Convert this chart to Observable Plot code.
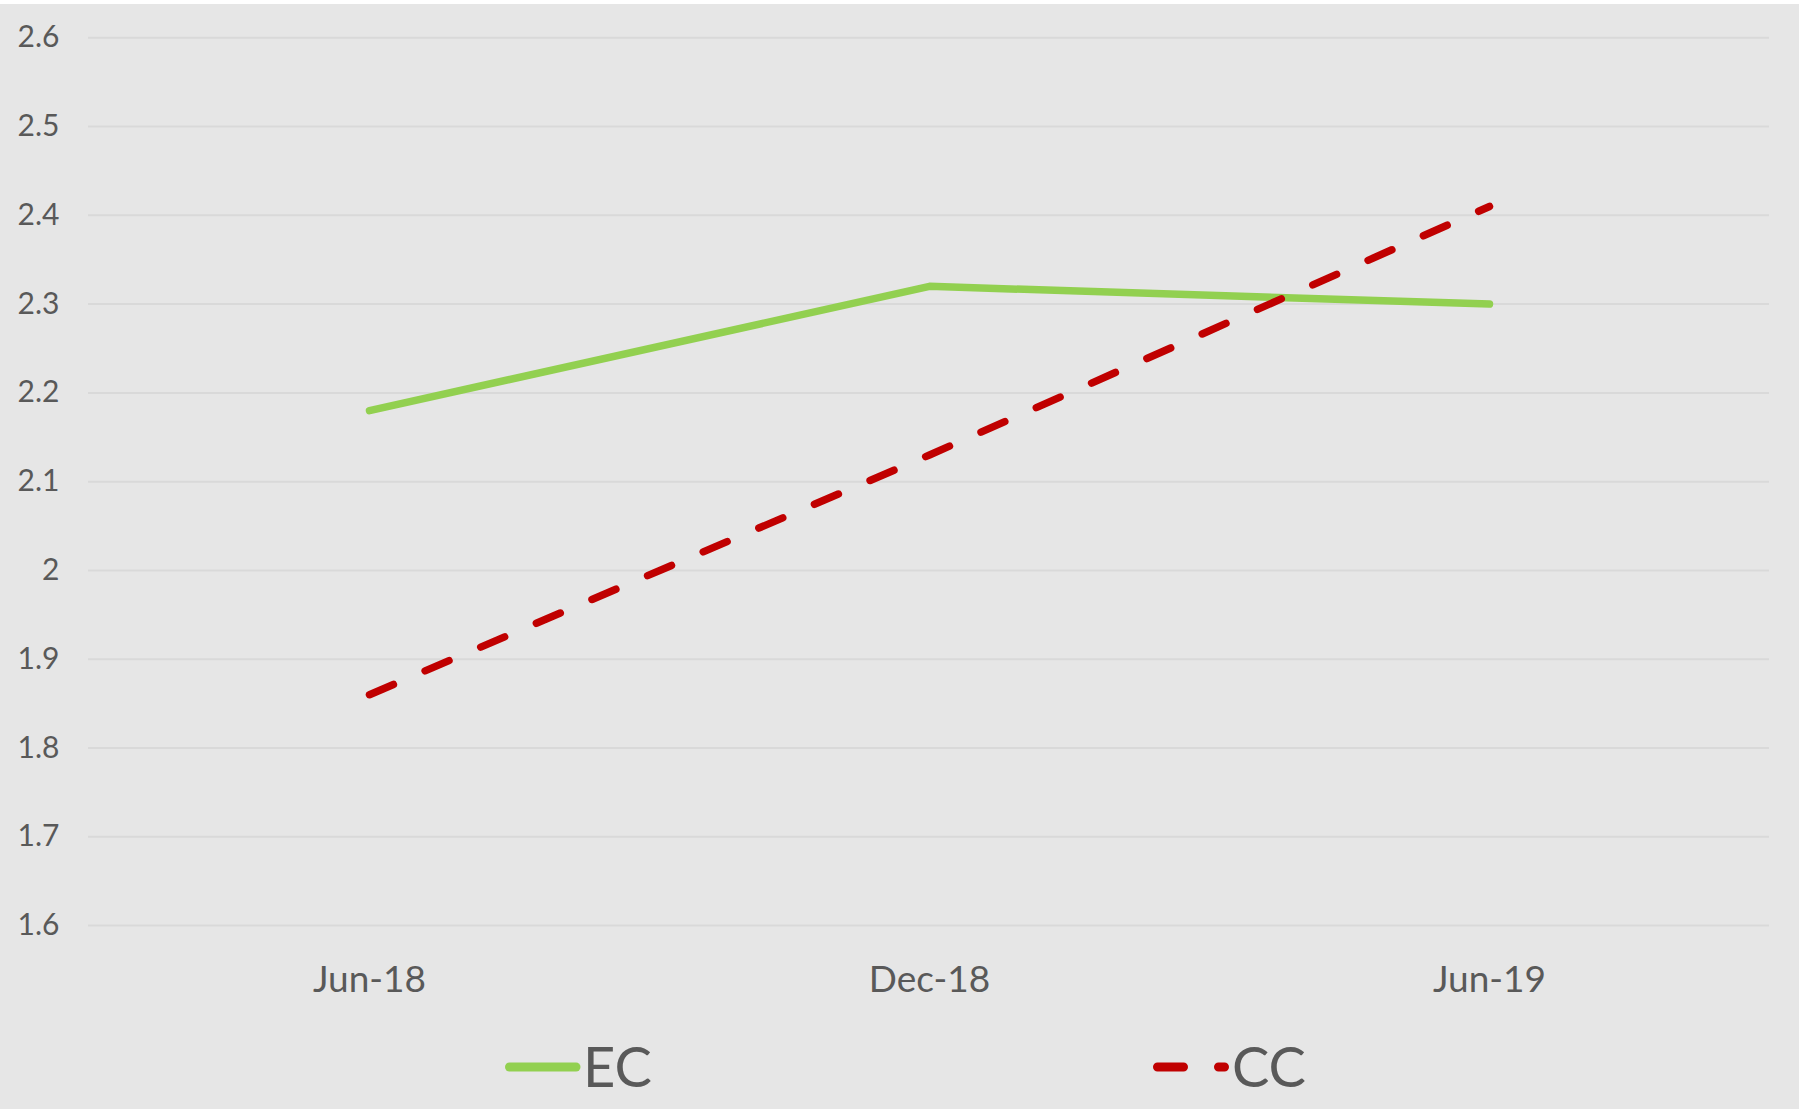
<!DOCTYPE html>
<html>
<head>
<meta charset="utf-8">
<script src="https://cdn.jsdelivr.net/npm/d3@7"></script>
<script src="https://cdn.jsdelivr.net/npm/@observablehq/plot@0.6"></script>
<style>
  html, body { margin: 0; padding: 0; background: #ffffff; }
  #chart { position: absolute; left: 0; top: 4px; width: 1799px; height: 1105px; background: #e6e6e6; font-family: Lato, "Open Sans", sans-serif; }
  #chart svg { display: block; }
</style>
</head>
<body>
<div id="chart"></div>
<script>
// ---- data ----
const periods = ["Jun-18", "Dec-18", "Jun-19"];
const ecValues = [2.18, 2.32, 2.30];
const ccValues = [1.86, 2.13, 2.41];
const yTicks = [1.6, 1.7, 1.8, 1.9, 2.0, 2.1, 2.2, 2.3, 2.4, 2.5, 2.6];
const seriesNames = ["EC", "CC"];
const seriesColors = ["#92d050", "#c00000"];

const ecData = periods.map((p, i) => ({period: p, value: ecValues[i]}));
const ccData = periods.map((p, i) => ({period: p, value: ccValues[i]}));

const W = 1799;
const textColor = "#595959";

const plot = Plot.plot({
  width: W,
  height: 1010,
  marginLeft: 88,
  marginRight: 30,
  marginTop: 33.3,
  marginBottom: 89,
  style: {background: "transparent", fontFamily: "Lato, 'Open Sans', sans-serif", color: textColor},
  x: {type: "point", domain: periods, padding: 0.5, label: null},
  y: {domain: [1.6, 2.6], label: null},
  marks: [
    Plot.ruleY(yTicks, {stroke: "#d9d9d9", strokeWidth: 2}),
    Plot.axisY(yTicks, {tickSize: 0, tickPadding: 29, fontSize: 30, label: null,
      tickFormat: d => String(+d.toFixed(1))}),
    Plot.axisX({tickSize: 0, tickPadding: 40, fontSize: 37, label: null}),
    Plot.line(ecData, {x: "period", y: "value", stroke: seriesColors[0], strokeWidth: 7.5,
      strokeLinecap: "round", strokeLinejoin: "round"}),
    Plot.line(ccData, {x: "period", y: "value", stroke: seriesColors[1], strokeWidth: 7.5,
      strokeLinecap: "round", strokeLinejoin: "round", strokeDasharray: "26,34.5"})
  ]
});
document.getElementById("chart").appendChild(plot);

// ---- legend (below the plot) ----
const legend = d3.select("#chart").append("svg")
  .attr("width", W).attr("height", 95);
const legendItems = [
  {name: seriesNames[0], color: seriesColors[0], dash: null, x1: 509.5, x2: 576, tx: 583},
  {name: seriesNames[1], color: seriesColors[1], dash: "26,35", x1: 1157.5, x2: 1224.5, tx: 1232}
];
for (const it of legendItems) {
  legend.append("line")
    .attr("x1", it.x1).attr("x2", it.x2).attr("y1", 53).attr("y2", 53)
    .attr("stroke", it.color).attr("stroke-width", 9)
    .attr("stroke-linecap", "round")
    .attr("stroke-dasharray", it.dash);
  legend.append("text")
    .attr("x", it.tx).attr("y", 73)
    .attr("fill", textColor)
    .attr("font-size", 56)
    .attr("font-family", "Lato, 'Open Sans', sans-serif")
    .text(it.name);
}
</script>
</body>
</html>
